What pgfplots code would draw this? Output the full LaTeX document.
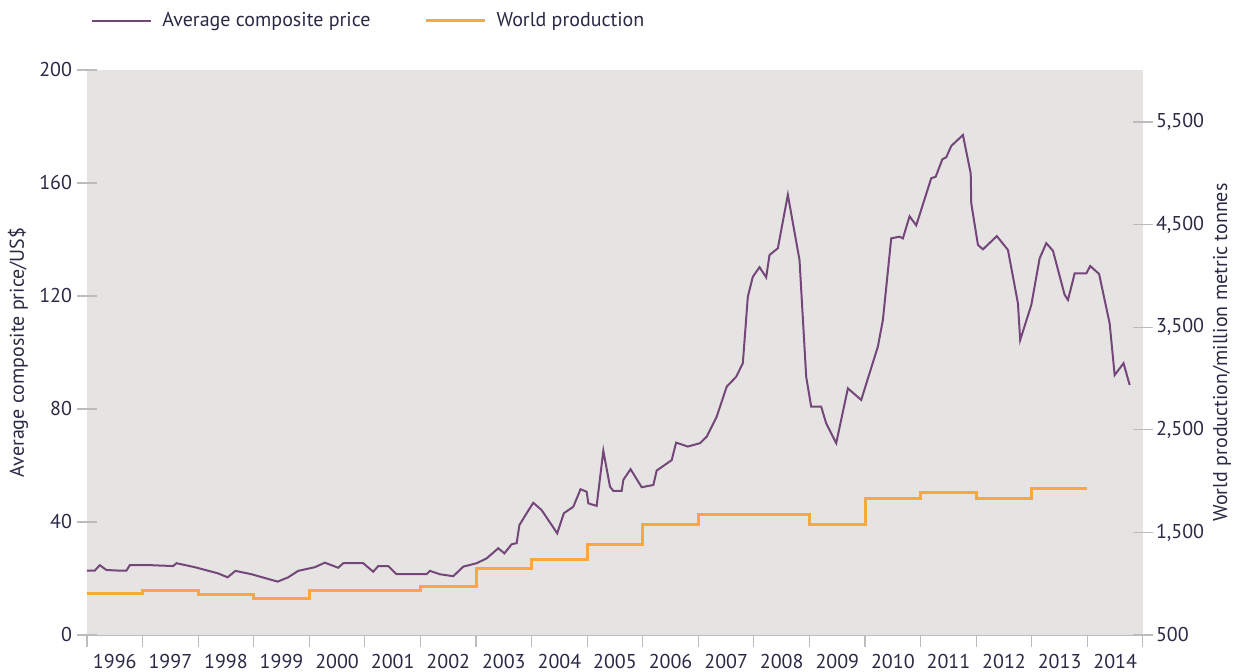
\documentclass[border=0pt]{standalone}
\usepackage{pgfplots}
\pgfplotsset{compat=1.18}
\usepackage{fontspec}
\setmainfont{PT Sans}
\definecolor{pricecol}{HTML}{74467A}
\definecolor{prodcol}{HTML}{F9A73E}
\definecolor{bggray}{HTML}{E6E4E3}
\definecolor{tickgray}{HTML}{BDBBBB}
\definecolor{txt}{HTML}{2A2A45}

\pgfplotsset{
  common/.style={
    width=528pt, height=282.5pt, scale only axis,
    xmin=1996, xmax=2015,
    font=\fontsize{10}{12}\selectfont, every tick label/.append style={text=txt},
    label style={text=txt},
    /pgf/number format/assume math mode=true,
  }
}

\begin{document}
\begin{tikzpicture}
\useasboundingbox (-43.5pt,-18.5pt) rectangle (578.5pt,317.5pt);

% price, left axis
\begin{axis}[common,
  axis background/.style={fill=bggray},
  axis x line*=bottom, axis y line*=left,
  x axis line style={draw=tickgray, -},
  y axis line style={draw=none},
  ymin=0, ymax=200, ytick={0,40,...,200},
  xtick={1996.5,1997.5,...,2014.5},
  xticklabels={1996,1997,1998,1999,2000,2001,2002,2003,2004,2005,2006,2007,2008,2009,2010,2011,2012,2013,2014},
  major x tick style={draw=none},
  minor xtick={1996,1997,...,2015},
  minor tick length=6pt,
  major tick length=10pt,
  tick align=outside,
  tick style={tickgray, line width=0.6pt},
  major y tick style={xshift=5pt},
  xticklabel style={yshift=4pt},
  yticklabel style={xshift=6pt},
  ylabel={Average composite price/US\$},
  ylabel style={at={(axis description cs:-0.0653,0.5)}, anchor=center},
  legend style={at={(axis description cs:0,1)}, anchor=west, xshift=2pt, yshift=24.5pt,
    draw=none, fill=none, inner sep=0pt, font=\fontsize{10}{12}\selectfont, text=txt,
    legend columns=2,
    /tikz/every odd column/.append style={column sep=3pt},
    /tikz/every even column/.append style={column sep=25pt}},
  legend image code/.code={\draw[#1] (0pt,0pt) -- (29.5pt,0pt);},
]
\addplot[pricecol, line width=1pt] coordinates {
(1996.00,22.8) (1996.14,22.8) (1996.23,24.7) (1996.35,23.0) (1996.56,22.8) (1996.71,22.8)
(1996.77,24.7) (1997.16,24.7) (1997.55,24.4) (1997.61,25.4) (1997.94,24.0) (1998.36,21.8)
(1998.53,20.4) (1998.67,22.7) (1998.96,21.5) (1999.43,18.9) (1999.62,20.4) (1999.80,22.7)
(2000.10,24.0) (2000.28,25.6) (2000.52,23.8) (2000.61,25.4) (2000.97,25.4) (2001.15,22.4)
(2001.24,24.4) (2001.42,24.4) (2001.57,21.5) (2002.11,21.5) (2002.17,22.7) (2002.35,21.5)
(2002.59,20.8) (2002.77,24.2) (2003.01,25.4) (2003.19,27.1) (2003.40,30.7) (2003.51,28.9)
(2003.64,32.1) (2003.73,32.5) (2003.78,38.9) (2003.91,43.1) (2004.03,46.8) (2004.18,44.2)
(2004.46,36.0) (2004.58,43.1) (2004.75,45.4) (2004.88,51.6) (2004.99,50.7) (2005.02,46.6)
(2005.17,45.7) (2005.29,65.2) (2005.41,52.5) (2005.47,51.0) (2005.62,51.0) (2005.65,54.9)
(2005.78,58.7) (2005.98,52.3) (2006.19,53.1) (2006.25,58.2) (2006.52,61.9) (2006.60,68.1)
(2006.81,66.7) (2007.03,67.9) (2007.15,70.2) (2007.33,77.3) (2007.51,87.9) (2007.68,91.4)
(2007.80,96.2) (2007.89,119.8) (2007.98,126.8) (2008.10,130.2) (2008.22,126.6) (2008.28,134.5)
(2008.43,136.9) (2008.61,155.8) (2008.82,132.7) (2008.94,91.4) (2009.03,80.8) (2009.21,80.8)
(2009.30,74.9) (2009.48,67.9) (2009.69,87.3) (2009.93,83.2) (2010.23,102.1) (2010.32,111.5)
(2010.47,140.4) (2010.62,141.0) (2010.68,140.4) (2010.80,148.2) (2010.92,145.0) (2011.19,161.7)
(2011.27,162.2) (2011.39,168.4) (2011.46,169.1) (2011.55,173.1) (2011.76,177.0) (2011.90,163.4)
(2011.91,152.8) (2012.03,138.1) (2012.12,136.5) (2012.37,141.2) (2012.57,136.3) (2012.75,117.4)
(2012.79,104.4) (2012.99,116.8) (2013.14,133.3) (2013.26,138.7) (2013.38,136.0) (2013.59,120.4)
(2013.65,118.6) (2013.77,128.0) (2013.98,128.0) (2014.05,130.6) (2014.21,127.8) (2014.40,110.3)
(2014.49,92.0) (2014.65,96.2) (2014.76,88.5)
};
\addlegendentry{Average composite price}
\addlegendimage{prodcol, line width=1.5pt}
\addlegendentry{World production}
\end{axis}

% production, right axis
\begin{axis}[common,
  axis x line=none, axis y line*=right,
  y axis line style={draw=none},
  ymin=500, ymax=6007, ytick={500,1500,...,5500},
  /pgf/number format/.cd, 1000 sep={,}, /pgfplots/.cd,
  major tick length=10pt, tick align=outside,
  tick style={tickgray, line width=0.6pt},
  major y tick style={xshift=-5pt},
  yticklabel style={xshift=-7pt},
  ylabel={World production/million metric tonnes},
  ylabel style={at={(axis description cs:1.0748,0.5)}, anchor=center},
]
\addplot[prodcol, line width=1.5pt, const plot mark left] coordinates {
(1996,906) (1997,932) (1998,890) (1999,854) (2000,932) (2001,932) (2002,971)
(2003,1150) (2004,1238) (2005,1384) (2006,1579) (2007,1676) (2008,1676)
(2009,1580) (2010,1835) (2011,1884) (2012,1835) (2013,1923) (2014,1923)
};
\end{axis}
\end{tikzpicture}
\end{document}
